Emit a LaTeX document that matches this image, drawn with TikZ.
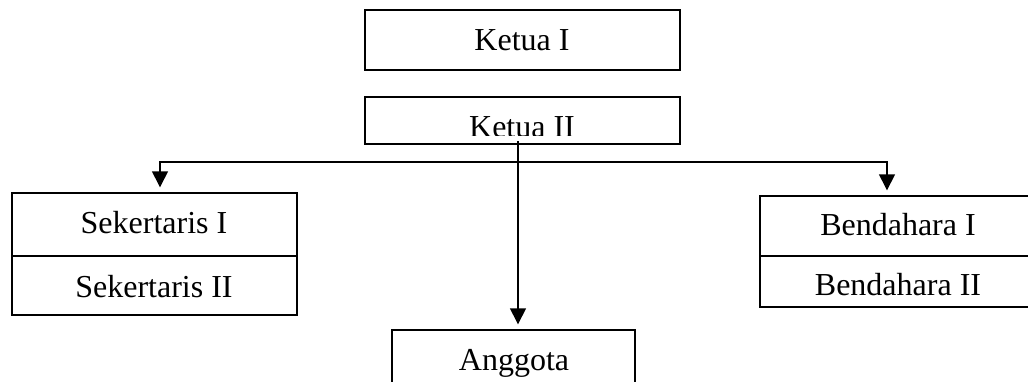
\documentclass[tikz,border=0pt]{standalone}
\usepackage{fontspec}
\setmainfont{Liberation Serif}
\usetikzlibrary{arrows.meta}
\tikzset{
  boxn/.style={draw, line width=1.4pt, rectangle, inner sep=0pt, minimum width=#1},
  lbl/.style={anchor=base, inner sep=0pt, font=\fontsize{32}{38}\selectfont},
  conn/.style={line width=1.4pt},
  arr/.style={conn, -{Triangle[width=16pt,length=16pt]}, shorten >=5pt},
}
\begin{document}
\begin{tikzpicture}[x=1pt,y=-1pt]
\clip (0,0) rectangle (1028,381);
\fill[white] (0,0) rectangle (1028,381);
% boxes
\node[boxn=315pt, minimum height=60pt] (k1) at (522.5,40) {};
\node[boxn=315pt, minimum height=47pt] (k2) at (522.5,120.5) {};
\node[boxn=285pt, minimum height=63pt] (sek1) at (154.5,224.5) {};
\node[boxn=285pt, minimum height=59pt] (sek2) at (154.5,285.5) {};
\node[boxn=280pt, minimum height=60pt] (ben1) at (900,226) {};
\node[boxn=280pt, minimum height=51pt] (ben2) at (900,281.5) {};
\node[boxn=243pt, minimum height=80pt] (ang) at (513.5,370) {};
% labels
\node[lbl] (tk1) at (522,50) {Ketua I};
\begin{scope}
\clip (365,97) rectangle (680,135);
\node[lbl] (tk2) at (522,137) {Ketua II};
\end{scope}
\node[lbl] (tsek1) at (154,233) {Sekertaris I};
\node[lbl] (tsek2) at (154,297) {Sekertaris II};
\node[lbl] (tben1) at (898,235) {Bendahara I};
\node[lbl] (tben2) at (898,295) {Bendahara II};
\node[lbl] (tang) at (514,370) {Anggota};
% connectors
\coordinate (src) at (518,141);
\coordinate (bus) at (518,162);
\coordinate (busL) at (160,162);
\coordinate (busR) at (887,162);
\draw[arr] (src) -- (src |- ang.north);
\draw[arr] (bus) -- (busL) -- (busL |- sek1.north);
\draw[arr] (bus) -- (busR) -- (busR |- ben1.north);
\end{tikzpicture}
\end{document}
